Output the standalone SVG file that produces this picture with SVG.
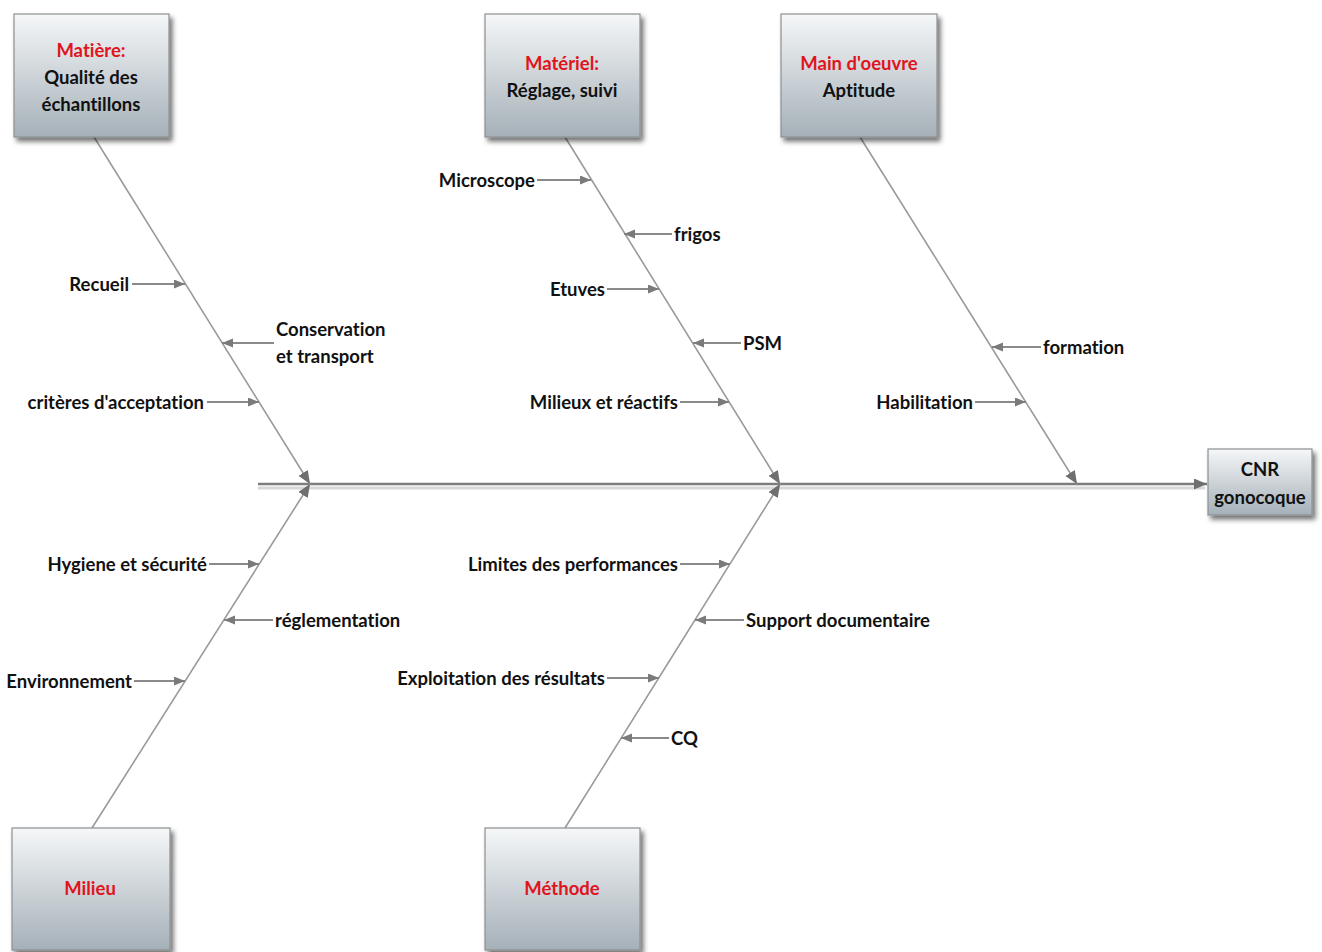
<svg xmlns="http://www.w3.org/2000/svg" width="1322" height="952" viewBox="0 0 1322 952">
<defs>
<linearGradient id="boxg" x1="0" y1="0" x2="0" y2="1">
<stop offset="0" stop-color="#f5f7f8"/>
<stop offset="1" stop-color="#a5b0b8"/>
</linearGradient>
<filter id="sh" x="-20%" y="-20%" width="150%" height="150%">
<feDropShadow dx="3" dy="4" stdDeviation="2.5" flood-color="#000" flood-opacity="0.55"/>
</filter>
<marker id="ah" markerUnits="userSpaceOnUse" markerWidth="12" markerHeight="10" refX="11" refY="4.5" orient="auto">
<path d="M0,0 L11,4.5 L0,9 z" fill="#7a7a7a"/>
</marker>
<marker id="ahb" markerUnits="userSpaceOnUse" markerWidth="14" markerHeight="12" refX="13" refY="5.5" orient="auto">
<path d="M0,0 L13,5.5 L0,11 z" fill="#6f6f6f"/>
</marker>
<style>
.box{fill:url(#boxg);stroke:#8c8f92;stroke-width:1.2;filter:url(#sh)}
.t{font-family:Lato,"Open Sans","DejaVu Sans",sans-serif;font-size:18.5px;fill:#111;font-weight:bold;font-variant-ligatures:none}
.r{fill:#e0141c}
.c{text-anchor:middle}
.e{text-anchor:end}
.diag{stroke:#9a9a9a;stroke-width:1.6;fill:none}
.sub{stroke:#8a8a8a;stroke-width:2.2;fill:none;marker-end:url(#ah)}
</style>
</defs>
<rect width="1322" height="952" fill="#fff"/>

<g id="connectors">
<line x1="258" y1="488" x2="1205" y2="488" stroke="#d8d8d8" stroke-width="3"/>
<line x1="258" y1="484" x2="1207" y2="484" stroke="#7c7c7c" stroke-width="2.4" marker-end="url(#ahb)"/>
<line class="diag" x1="94" y1="137" x2="310" y2="484" marker-end="url(#ahb)"/>
<line class="diag" x1="565" y1="137" x2="780" y2="484" marker-end="url(#ahb)"/>
<line class="diag" x1="860" y1="137" x2="1077" y2="484" marker-end="url(#ahb)"/>
<line class="diag" x1="92" y1="828" x2="310" y2="484" marker-end="url(#ahb)"/>
<line class="diag" x1="565" y1="828" x2="780" y2="484" marker-end="url(#ahb)"/>

<line class="sub" x1="132" y1="284" x2="185" y2="284"/>
<line class="sub" x1="274" y1="343" x2="222" y2="343"/>
<line class="sub" x1="207" y1="402" x2="259" y2="402"/>
<line class="sub" x1="537" y1="180" x2="591" y2="180"/>
<line class="sub" x1="672" y1="234" x2="624" y2="234"/>
<line class="sub" x1="607" y1="289" x2="659" y2="289"/>
<line class="sub" x1="741" y1="343" x2="693" y2="343"/>
<line class="sub" x1="680" y1="402" x2="729" y2="402"/>
<line class="sub" x1="1041" y1="347" x2="992" y2="347"/>
<line class="sub" x1="975" y1="402" x2="1026" y2="402"/>
<line class="sub" x1="209" y1="564" x2="259" y2="564"/>
<line class="sub" x1="273" y1="620" x2="224" y2="620"/>
<line class="sub" x1="134" y1="681" x2="185" y2="681"/>
<line class="sub" x1="680" y1="564" x2="730" y2="564"/>
<line class="sub" x1="744" y1="620" x2="695" y2="620"/>
<line class="sub" x1="607" y1="678" x2="659" y2="678"/>
<line class="sub" x1="669" y1="738" x2="621" y2="738"/>
</g>

<g id="labels">
<text class="t e" x="129" y="291">Recueil</text>
<text class="t" x="276" y="336">Conservation</text>
<text class="t" x="276" y="363">et transport</text>
<text class="t e" x="204" y="409">critères d'acceptation</text>
<text class="t e" x="535" y="187">Microscope</text>
<text class="t" x="674" y="241">frigos</text>
<text class="t e" x="605" y="296">Etuves</text>
<text class="t" x="743" y="350">PSM</text>
<text class="t e" x="678" y="409">Milieux et réactifs</text>
<text class="t" x="1043" y="354">formation</text>
<text class="t e" x="973" y="409">Habilitation</text>
<text class="t e" x="207" y="571">Hygiene et sécurité</text>
<text class="t" x="275" y="627">réglementation</text>
<text class="t e" x="132" y="688">Environnement</text>
<text class="t e" x="678" y="571">Limites des performances</text>
<text class="t" x="746" y="627">Support documentaire</text>
<text class="t e" x="605" y="685">Exploitation des résultats</text>
<text class="t" x="671" y="745">CQ</text>
</g>

<g id="matiere">
<rect class="box" x="14" y="14" width="155" height="123"/>
<text class="t c r" x="91" y="57">Matière:</text>
<text class="t c" x="91" y="84">Qualité des</text>
<text class="t c" x="91" y="111">échantillons</text>
</g>
<g id="materiel">
<rect class="box" x="485" y="14" width="155" height="123"/>
<text class="t c r" x="562" y="70">Matériel:</text>
<text class="t c" x="562" y="97">Réglage, suivi</text>
</g>
<g id="main-oeuvre">
<rect class="box" x="781" y="14" width="156" height="123"/>
<text class="t c r" x="859" y="70">Main d'oeuvre</text>
<text class="t c" x="859" y="97">Aptitude</text>
</g>
<g id="milieu">
<rect class="box" x="12" y="828" width="158" height="122"/>
<text class="t c r" x="90" y="895">Milieu</text>
</g>
<g id="methode">
<rect class="box" x="485" y="828" width="155" height="122"/>
<text class="t c r" x="562" y="895">Méthode</text>
</g>
<g id="cnr">
<rect class="box" x="1208" y="449" width="104" height="66"/>
<text class="t c" x="1260" y="476">CNR</text>
<text class="t c" x="1260" y="504">gonocoque</text>
</g>
</svg>
